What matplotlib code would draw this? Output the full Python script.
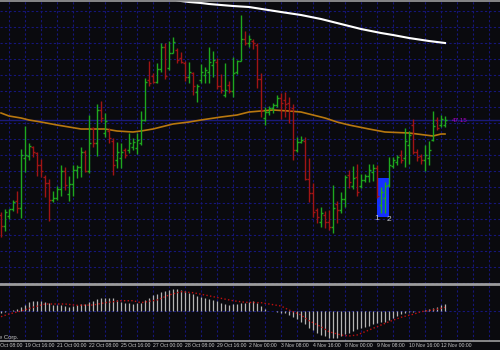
import numpy as np
import matplotlib
matplotlib.use('Agg')
import matplotlib.pyplot as plt
from matplotlib.patches import Rectangle

# 4H OHLC bars, 18 Oct 16:00 .. 12 Nov 04:00
opens = [46.20, 46.09, 46.19, 46.26, 46.34, 46.27, 46.77, 46.79, 46.88, 46.82,
         46.70, 46.58, 46.52, 46.35, 46.37, 46.46, 46.64, 46.41, 46.51, 46.65,
         46.68, 46.83, 46.64, 47.07, 46.92, 47.25, 47.02, 47.04, 46.94, 46.75,
         46.77, 46.85, 46.85, 46.88, 46.87, 46.92, 47.15, 47.55, 47.59, 47.53,
         47.66, 47.88, 47.67, 47.82, 47.85, 47.77, 47.72, 47.58, 47.62, 47.43,
         47.55, 47.60, 47.63, 47.70, 47.73, 47.49, 47.40, 47.50, 47.44, 47.63,
         47.74, 47.96, 47.92, 47.94, 47.90, 47.56, 47.17, 47.23, 47.27, 47.30,
         47.37, 47.35, 47.32, 47.27, 46.85, 46.93, 46.94, 46.56, 46.42, 46.25,
         46.13, 46.20, 46.13, 46.08, 46.31, 46.25, 46.36, 46.60, 46.49, 46.58,
         46.49, 46.55, 46.59, 46.63, 46.67, 46.30, 46.37, 46.50, 46.69, 46.73,
         46.80, 46.77, 46.90, 47.10, 46.83, 46.79, 46.75, 46.77, 46.95, 47.15,
         47.10, 47.10]
highs = [46.23, 46.26, 46.26, 46.35, 46.44, 46.86, 47.09, 46.92, 46.89, 46.83,
         46.76, 46.60, 46.56, 46.44, 46.49, 46.70, 46.68, 46.59, 46.70, 46.70,
         46.88, 46.85, 47.20, 47.08, 47.31, 47.34, 47.22, 47.07, 46.97, 46.93,
         46.92, 46.87, 47.02, 46.97, 47.02, 47.24, 47.57, 47.74, 47.62, 47.72,
         47.92, 47.92, 47.94, 47.98, 47.87, 47.83, 47.74, 47.73, 47.63, 47.51,
         47.71, 47.68, 47.88, 47.84, 47.77, 47.61, 47.72, 47.54, 47.78, 47.75,
         48.20, 48.04, 48.00, 47.96, 47.92, 47.62, 47.28, 47.29, 47.32, 47.40,
         47.42, 47.43, 47.38, 47.31, 46.98, 46.99, 46.98, 46.77, 46.52, 46.27,
         46.28, 46.24, 46.25, 46.50, 46.34, 46.43, 46.60, 46.65, 46.69, 46.71,
         46.61, 46.61, 46.71, 46.71, 46.70, 46.48, 46.53, 46.78, 46.78, 46.80,
         46.85, 47.07, 47.04, 47.16, 46.86, 46.81, 46.90, 46.94, 47.24, 47.18,
         47.20, 47.19]
lows = [45.98, 46.04, 46.16, 46.24, 46.22, 46.17, 46.63, 46.75, 46.78, 46.59,
        46.58, 46.38, 46.14, 46.33, 46.35, 46.39, 46.45, 46.34, 46.39, 46.57,
        46.58, 46.63, 46.62, 46.88, 46.79, 47.13, 46.98, 46.92, 46.60, 46.67,
        46.67, 46.77, 46.82, 46.85, 46.81, 46.90, 47.14, 47.49, 47.52, 47.52,
        47.63, 47.56, 47.65, 47.82, 47.72, 47.72, 47.54, 47.52, 47.40, 47.33,
        47.52, 47.52, 47.52, 47.58, 47.46, 47.42, 47.38, 47.42, 47.38, 47.61,
        47.74, 47.90, 47.88, 47.86, 47.47, 47.18, 47.10, 47.20, 47.22, 47.28,
        47.16, 47.18, 47.12, 46.75, 46.83, 46.92, 46.55, 46.33, 46.18, 46.12,
        46.08, 46.07, 46.05, 46.02, 46.12, 46.22, 46.28, 46.47, 46.46, 46.39,
        46.47, 46.53, 46.53, 46.54, 46.37, 46.22, 46.22, 46.48, 46.67, 46.70,
        46.72, 46.68, 46.71, 46.81, 46.74, 46.71, 46.64, 46.70, 46.94, 47.05,
        47.08, 47.08]
closes = [46.09, 46.23, 46.26, 46.33, 46.27, 46.80, 46.80, 46.89, 46.83, 46.70,
          46.64, 46.52, 46.35, 46.37, 46.46, 46.64, 46.50, 46.51, 46.65, 46.68,
          46.83, 46.64, 46.92, 46.92, 47.25, 47.17, 47.14, 46.97, 46.70, 46.83,
          46.83, 46.80, 46.92, 46.93, 46.95, 47.15, 47.53, 47.52, 47.53, 47.66,
          47.88, 47.59, 47.82, 47.93, 47.75, 47.73, 47.58, 47.63, 47.49, 47.49,
          47.63, 47.65, 47.73, 47.75, 47.49, 47.45, 47.45, 47.44, 47.62, 47.74,
          47.96, 47.92, 47.96, 47.92, 47.56, 47.25, 47.23, 47.27, 47.30, 47.37,
          47.32, 47.31, 47.25, 46.85, 46.93, 46.95, 46.56, 46.42, 46.23, 46.18,
          46.22, 46.13, 46.08, 46.27, 46.25, 46.36, 46.58, 46.53, 46.57, 46.43,
          46.55, 46.59, 46.65, 46.67, 46.39, 46.43, 46.49, 46.70, 46.75, 46.78,
          46.75, 46.94, 47.00, 46.83, 46.78, 46.75, 46.80, 46.85, 47.09, 47.07,
          47.16, 47.15]

# moving averages, read at some bars
ma_idx = [0, 2, 5, 7, 10, 14, 17, 20, 22, 26, 29, 33, 35, 38, 40, 43, 47, 50,
          55, 59, 62, 65, 68, 72, 75, 78, 81, 84, 87, 92, 96, 102, 106, 108, 110, 111]
ma_val = [47.22, 47.19, 47.17, 47.15, 47.13, 47.10, 47.08, 47.06, 47.06, 47.06,
          47.04, 47.03, 47.04, 47.06, 47.08, 47.11, 47.13, 47.15, 47.18, 47.20,
          47.23, 47.24, 47.25, 47.24, 47.23, 47.20, 47.17, 47.13, 47.10, 47.06,
          47.03, 47.02, 47.00, 46.99, 47.01, 47.01]
slow_idx = [40, 45, 47, 50, 52, 55, 58, 62, 70, 75, 80, 85, 90, 95, 98, 102, 107, 111]
slow_val = [48.38, 48.34, 48.33, 48.32, 48.31, 48.30, 48.29, 48.28, 48.23, 48.20,
            48.16, 48.11, 48.06, 48.02, 48.00, 47.97, 47.94, 47.92]

# MACD window
macd = [-0.02, -0.01, 0.0, 0.01, 0.02, 0.043, 0.06, 0.087, 0.10, 0.10,
        0.10, 0.087, 0.077, 0.057, 0.057, 0.057, 0.05, 0.043, 0.05, 0.057,
        0.067, 0.067, 0.087, 0.10, 0.117, 0.133, 0.133, 0.133, 0.127, 0.11,
        0.093, 0.083, 0.077, 0.07, 0.077, 0.083, 0.11, 0.127, 0.157, 0.17,
        0.187, 0.20, 0.21, 0.217, 0.217, 0.21, 0.20, 0.183, 0.167, 0.153,
        0.143, 0.127, 0.12, 0.11, 0.10, 0.083, 0.07, 0.06, 0.067, 0.07,
        0.077, 0.083, 0.093, 0.10, 0.083, 0.05, 0.017, 0.003, 0.002, -0.007,
        -0.017, -0.023, -0.04, -0.057, -0.083, -0.107, -0.133, -0.167, -0.19, -0.217,
        -0.24, -0.25, -0.267, -0.273, -0.267, -0.25, -0.233, -0.217, -0.197, -0.183,
        -0.167, -0.157, -0.15, -0.133, -0.123, -0.113, -0.107, -0.09, -0.067, -0.05,
        -0.033, -0.023, -0.013, -0.007, 0.0, 0.003, 0.01, 0.02, 0.033, 0.043,
        0.057, 0.07]
sig_idx = [0, 2, 5, 8, 11, 16, 19, 23, 26, 30, 33, 35, 39, 42, 45, 48, 51, 55, 58,
           61, 65, 67, 70, 72, 75, 77, 80, 82, 85, 87, 89, 91, 94, 97, 100, 103, 105, 109, 111]
sig_val = [-0.057, -0.03, 0.0, 0.037, 0.07, 0.07, 0.057, 0.06, 0.083, 0.103,
           0.103, 0.083, 0.11, 0.16, 0.193, 0.183, 0.16, 0.127, 0.103, 0.087,
           0.083, 0.07, 0.05, 0.01, -0.04, -0.097, -0.157, -0.207, -0.24, -0.25,
           -0.24, -0.207, -0.157, -0.107, -0.063, -0.033, -0.007, 0.017, 0.037]

bid = 47.15
box_start, box_end = 94, 97
box_top, box_bottom = 46.57, 46.18

time_labels = ['18 Oct 08:00', '19 Oct 16:00', '21 Oct 00:00', '22 Oct 08:00',
               '25 Oct 16:00', '27 Oct 00:00', '28 Oct 08:00', '29 Oct 16:00',
               '2 Nov 00:00', '3 Nov 08:00', '4 Nov 16:00', '8 Nov 00:00',
               '9 Nov 08:00', '10 Nov 16:00', '12 Nov 00:00']

BG = '#0a0a0e'
GRID = '#16167a'
GREEN = '#1ea81e'
RED = '#a01414'
BORDER = '#9c9c9c'
TXT = '#c8c8c8'
FONT = ['Liberation Sans', 'DejaVu Sans']

fig = plt.figure(figsize=(5, 3.5), dpi=100, facecolor=BG)
ax = fig.add_axes([0, 1 - 284 / 350, 1, 283 / 350], facecolor=BG)
axi = fig.add_axes([0, 1 - 341 / 350, 1, 55 / 350], facecolor=BG)

for a in (ax, axi):
    a.set_xlim(-0.25, 124.75)
    a.set_xticks(np.arange(2, 125, 4))
    a.tick_params(length=0, labelbottom=False, labelleft=False)
    a.grid(True, color=GRID, ls=(0, (2, 2)), lw=0.8)
    a.set_axisbelow(True)
    for s in a.spines.values():
        s.set_visible(False)

ax.set_ylim(45.51, 48.34)
ax.set_yticks(48.24 - 0.16 * np.arange(18))
axi.set_ylim(-0.30, 0.25)
axi.set_yticks([0])

ax.spines['top'].set_visible(True)
ax.spines['top'].set_color(BORDER)
ax.spines['top'].set_linewidth(1.2)
ax.spines['bottom'].set_visible(True)
ax.spines['bottom'].set_color(BORDER)
ax.spines['bottom'].set_linewidth(2)
axi.spines['bottom'].set_visible(True)
axi.spines['bottom'].set_color(BORDER)
axi.spines['bottom'].set_linewidth(1.2)

# price chart
o = np.array(opens); h = np.array(highs); l = np.array(lows); c = np.array(closes)
x = np.arange(len(c))
cols = np.where(c >= o, GREEN, RED)

ax.add_patch(Rectangle((box_start, box_bottom), box_end - box_start, box_top - box_bottom,
                       facecolor='#1430ff', edgecolor='none', zorder=2))
ax.axhline(bid, color='#1a1a78', lw=1, zorder=1.5)
ax.plot(ma_idx, ma_val, color='#b8780f', lw=1.2, zorder=2.5)
ax.plot(slow_idx, slow_val, color='white', lw=1.5, zorder=2.5)

ax.vlines(x, l, h, colors=cols, lw=1.0, zorder=3)
ax.hlines(o, x - 0.6, x, colors=cols, lw=1.0, zorder=3)
ax.hlines(c, x, x + 0.6, colors=cols, lw=1.0, zorder=3)

ax.annotate('1', (box_start, box_bottom), xytext=(0, -1), textcoords='offset points',
            ha='center', va='center', color=TXT, fontsize=6, family=FONT, zorder=4)
ax.annotate('2', (box_end, box_bottom), xytext=(0, -2), textcoords='offset points',
            ha='center', va='center', color=TXT, fontsize=6, family=FONT, zorder=4)
ax.text(112.8, bid, '%.2f' % bid, color='#b000c8', fontsize=4.5, ha='left', va='center',
        family=FONT)

# MACD
axi.vlines(x, 0, macd, colors='#b4b4b4', lw=0.9, zorder=3)
axi.plot(sig_idx, sig_val, color='#c01010', ls=':', lw=1.0, zorder=4)

fig.text(18 / 500, 1 - 337 / 350, 'MetaQuotes Software Corp.', ha='right', va='center',
         color=TXT, fontsize=4.3, family=FONT)

tr = axi.get_xaxis_transform()
for i, lab in enumerate(time_labels):
    axi.text(-2 + 8 * i, -0.09, lab, transform=tr, ha='left', va='center',
             color=TXT, fontsize=3.7, family=FONT, clip_on=False)

fig.savefig('out.png', dpi=100, facecolor=BG)
